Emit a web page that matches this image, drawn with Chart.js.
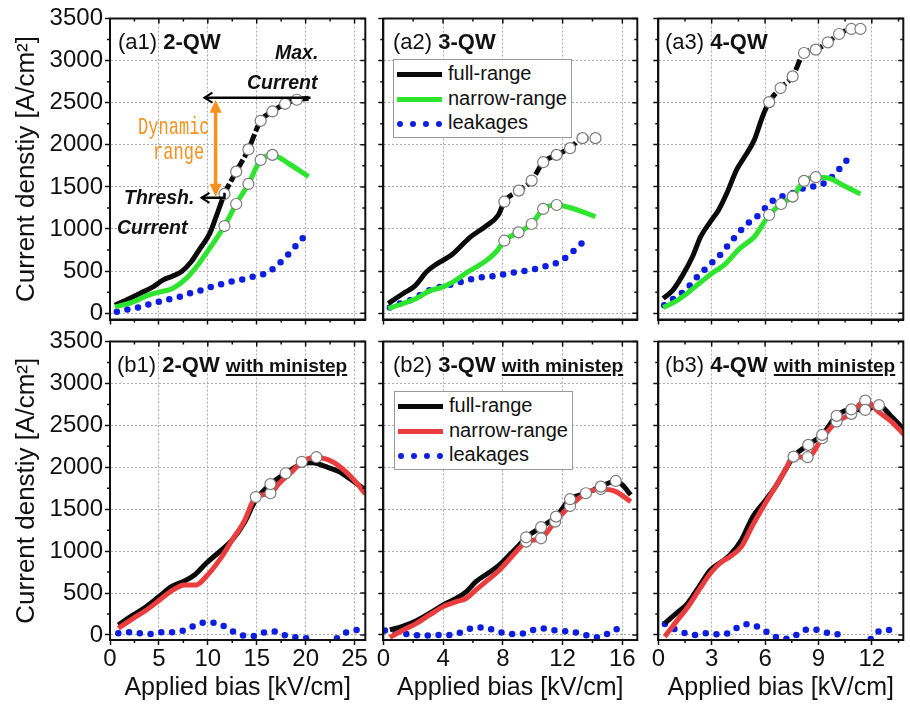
<!DOCTYPE html>
<html>
<head>
<meta charset="utf-8">
<script src="https://cdn.jsdelivr.net/npm/chart.js@4.4.0/dist/chart.umd.min.js"></script>
<style>
  html, body { margin: 0; padding: 0; background: #fff; }
  #wrap { position: relative; width: 910px; height: 705px; overflow: hidden; font-family: "Liberation Sans", Arial, sans-serif; color: #111; }
  #wrap canvas { position: absolute; }
  .lbl { position: absolute; font-size: 22px; line-height: 22px; white-space: nowrap; }
  .lbl u { font-size: 19px; font-weight: bold; text-decoration-thickness: 1.5px; text-underline-offset: 2px; }
  .note { position: absolute; font-weight: bold; font-style: italic; font-size: 19.5px; line-height: 20px; white-space: nowrap; }
  .dyn { position: absolute; color: #f7901e; font-family: "Liberation Mono", "DejaVu Sans Mono", monospace; font-size: 24px; line-height: 24px; transform: scaleX(0.71); transform-origin: 0 0; white-space: nowrap; }
  .legend { position: absolute; width: 177px; height: 76px; border: 1px solid #9a9a9a; background: #fff; font-size: 20px; padding-top: 1px; box-sizing: content-box; }
  .legend div { height: 24.5px; line-height: 24.5px; white-space: nowrap; }
  .legend .s { display: inline-block; width: 45px; margin: 0 6px 0 3px; vertical-align: middle; }
</style>
</head>
<body>
<div id="wrap">
  <canvas id="a1"></canvas><canvas id="a2"></canvas><canvas id="a3"></canvas>
  <canvas id="b1"></canvas><canvas id="b2"></canvas><canvas id="b3"></canvas>

  <div class="lbl" style="left:118px;top:31px">(a1) <b>2-QW</b></div>
  <div class="lbl" style="left:393px;top:31px">(a2) <b>3-QW</b></div>
  <div class="lbl" style="left:665px;top:31px">(a3) <b>4-QW</b></div>
  <div class="lbl" style="left:117px;top:354px">(b1) <b>2-QW</b> <u>with ministep</u></div>
  <div class="lbl" style="left:393px;top:354px">(b2) <b>3-QW</b> <u>with ministep</u></div>
  <div class="lbl" style="left:665px;top:354px">(b3) <b>4-QW</b> <u>with ministep</u></div>

  <div class="note" style="left:275px;top:42px">Max.</div>
  <div class="note" style="left:247px;top:72px">Current</div>
  <div class="note" style="left:124px;top:187px">Thresh.</div>
  <div class="note" style="left:117px;top:217px">Current</div>
  <div class="dyn" style="left:138px;top:116px">Dynamic</div>
  <div class="dyn" style="left:153px;top:141px">range</div>

  <div class="legend" style="left:393px;top:59px">
    <div><span class="s" style="border-top:5px solid #0a0a0a"></span>full-range</div>
    <div><span class="s" style="border-top:5px solid #2de52d"></span>narrow-range</div>
    <div><span class="s" style="border-top:6px dotted #0c1ee0"></span>leakages</div>
  </div>
  <div class="legend" style="left:394px;top:391px">
    <div><span class="s" style="border-top:5px solid #0a0a0a"></span>full-range</div>
    <div><span class="s" style="border-top:5px solid #eb3d3d"></span>narrow-range</div>
    <div><span class="s" style="border-top:6px dotted #0c1ee0"></span>leakages</div>
  </div>
</div>

<script>
// ---- data (x in kV/cm, y in A/cm2) ----
const a1FullX = [0.5, 2.0, 3.05, 4.4, 5.4, 6.4, 7.3, 8.3, 9.1, 10.2, 10.85, 11.7, 12.9, 14.15, 15.4, 16.6, 17.9, 19.1, 20.3];
const a1FullY = [95, 175, 234, 313, 393, 440, 492, 611, 750, 948, 1146, 1416, 1681, 1945, 2285, 2396, 2487, 2535, 2552];
const a1FullMkX = [11.7, 12.9, 14.15, 15.4, 16.6, 17.9, 19.1];
const a1FullMkY = [1416, 1681, 1945, 2285, 2396, 2487, 2535];
const a1NarrowX = [0.5, 2.4, 3.9, 5.1, 6.4, 7.8, 9.1, 10.3, 11.7, 12.9, 14.15, 15.4, 16.6, 18.3, 20.3];
const a1NarrowY = [75, 135, 214, 253, 294, 413, 591, 789, 1035, 1297, 1535, 1820, 1880, 1775, 1622];
const a1NarrowMkX = [11.7, 12.9, 14.15, 15.4, 16.6];
const a1NarrowMkY = [1035, 1297, 1535, 1820, 1880];
const a1LeakX = [0.7, 1.8, 2.9, 4.0, 5.0, 6.1, 7.1, 8.1, 9.1, 10.2, 11.25, 12.3, 13.3, 14.3, 15.35, 16.3, 16.9, 17.9, 18.6, 19.3, 20.0];
const a1LeakY = [16, 44, 68, 107, 135, 167, 194, 234, 265, 306, 341, 373, 393, 425, 452, 492, 551, 658, 750, 837, 928];

const a2FullX = [0.33, 1.33, 2.1, 2.9, 3.56, 4.56, 5.8, 6.9, 7.7, 8.1, 9.07, 9.93, 10.7, 11.6, 12.5, 13.33, 14.2];
const a2FullY = [115, 234, 321, 492, 583, 690, 900, 1039, 1166, 1324, 1456, 1575, 1793, 1880, 1960, 2079, 2079];
const a2FullMkX = [8.1, 9.07, 9.93, 10.7, 11.6, 12.5, 13.33, 14.2];
const a2FullMkY = [1324, 1456, 1575, 1793, 1880, 1960, 2079, 2079];
const a2NarrowX = [0.33, 1.33, 2.2, 3.1, 4.0, 4.67, 5.67, 6.78, 7.56, 8.1, 9.05, 9.93, 10.7, 11.6, 12.4, 13.3, 14.2];
const a2NarrowY = [56, 115, 175, 265, 313, 372, 492, 610, 730, 861, 960, 1059, 1238, 1285, 1258, 1205, 1146];
const a2NarrowMkX = [8.1, 9.05, 9.93, 10.7, 11.6];
const a2NarrowMkY = [861, 960, 1059, 1238, 1285];
const a2LeakX = [0.44, 1.1, 1.8, 2.44, 3.1, 3.8, 4.4, 5.1, 5.8, 6.56, 7.3, 8.0, 8.67, 9.4, 10.04, 10.7, 11.4, 12.05, 12.56, 13.07, 13.7];
const a2LeakY = [68, 115, 155, 214, 274, 313, 333, 365, 401, 425, 440, 460, 480, 500, 520, 551, 583, 639, 710, 797, 889];

const a3FullX = [0.27, 0.82, 1.37, 1.92, 2.38, 2.93, 3.39, 3.85, 4.4, 4.86, 5.4, 5.86, 6.23, 6.87, 7.55, 8.19, 8.85, 9.53, 10.16, 10.85, 11.36];
const a3FullY = [175, 274, 452, 670, 908, 1087, 1226, 1424, 1702, 1860, 2059, 2336, 2507, 2674, 2812, 3090, 3130, 3217, 3316, 3376, 3376];
const a3FullMkX = [6.23, 6.87, 7.55, 8.19, 8.85, 9.53, 10.16, 10.85, 11.36];
const a3FullMkY = [2507, 2674, 2812, 3090, 3130, 3217, 3316, 3376, 3376];
const a3NarrowX = [0.27, 0.92, 1.56, 2.29, 3.0, 3.76, 4.58, 5.4, 6.23, 6.9, 7.55, 8.19, 8.85, 9.6, 10.35, 11.36];
const a3NarrowY = [68, 135, 226, 353, 472, 583, 770, 908, 1166, 1297, 1384, 1571, 1615, 1603, 1523, 1416];
const a3NarrowMkX = [6.23, 6.9, 7.55, 8.19, 8.85];
const a3NarrowMkY = [1166, 1297, 1384, 1571, 1615];
const a3LeakX = [0.33, 0.79, 1.25, 1.7, 2.1, 2.53, 2.97, 3.43, 3.85, 4.25, 4.62, 5.04, 5.5, 5.96, 6.36, 6.92, 7.51, 8.06, 8.66, 9.25, 9.65, 10.08, 10.48, 10.86];
const a3LeakY = [95, 163, 226, 313, 413, 503, 591, 682, 789, 889, 979, 1067, 1139, 1238, 1324, 1384, 1424, 1476, 1503, 1535, 1595, 1690, 1789, 1880];

const b1FullX = [0.85, 2.37, 3.73, 5.08, 6.27, 7.45, 8.64, 9.83, 11.2, 12.5, 13.7, 14.9, 16.4, 17.96, 19.6, 20.7, 22.0, 23.4, 24.7, 26.1];
const b1FullY = [119, 239, 338, 465, 576, 636, 716, 855, 994, 1133, 1332, 1610, 1800, 1929, 2040, 2055, 2010, 1948, 1849, 1730];
const b1FullMkX = [16.4, 17.96];
const b1FullMkY = [1800, 1929];
const b1NarrowX = [0.85, 2.37, 3.73, 5.08, 6.44, 7.6, 8.8, 9.83, 11.2, 12.5, 13.7, 14.9, 16.4, 17.3, 18.6, 19.6, 21.1, 22.7, 24.1, 25.1, 26.1];
const b1NarrowY = [80, 199, 298, 418, 537, 597, 597, 696, 895, 1133, 1352, 1645, 1690, 1810, 1948, 2065, 2120, 2068, 1948, 1829, 1682];
const b1NarrowMkX = [14.9, 16.4, 19.6, 21.1];
const b1NarrowMkY = [1645, 1690, 2065, 2120];
const b1LeakX = [0.85, 2.03, 3.12, 4.23, 5.32, 6.44, 7.45, 8.4, 9.42, 10.6, 11.6, 12.6, 13.7, 14.8, 15.85, 16.9, 17.96, 19.07, 20.15, 21.7, 23.2, 24.2, 25.3];
const b1LeakY = [20, 32, 20, 12, 32, 32, 52, 99, 147, 147, 107, 40, -8, -12, 32, 40, -8, -28, -40, null, -40, 32, 60];

const b2FullX = [0.44, 1.33, 2.22, 3.1, 4.0, 4.9, 5.56, 6.2, 7.0, 7.78, 8.44, 9.1, 9.56, 10.56, 11.56, 12.5, 13.56, 14.56, 15.56, 16.0, 16.56];
const b2FullY = [60, 107, 171, 259, 358, 438, 517, 636, 736, 835, 954, 1074, 1165, 1285, 1411, 1619, 1690, 1769, 1837, 1790, 1670];
const b2FullMkX = [9.56, 10.56, 11.56, 12.5, 13.56, 14.56, 15.56];
const b2FullMkY = [1165, 1285, 1411, 1619, 1690, 1769, 1837];
const b2NarrowX = [0.44, 1.33, 2.22, 3.1, 4.0, 4.9, 5.56, 6.2, 7.0, 7.78, 8.44, 9.1, 9.56, 10.56, 11.5, 12.5, 13.56, 14.56, 15.56, 16.56];
const b2NarrowY = [-28, 60, 139, 239, 338, 398, 438, 537, 656, 775, 903, 1034, 1113, 1153, 1352, 1539, 1690, 1741, 1710, 1590];
const b2NarrowMkX = [9.56, 10.56, 11.5, 12.5, 14.56];
const b2NarrowMkY = [1113, 1153, 1352, 1539, 1741];
const b2LeakX = [0.11, 1.22, 2.0, 2.78, 3.56, 4.22, 4.89, 5.56, 6.27, 7.0, 7.67, 8.44, 9.16, 9.9, 10.6, 11.3, 12.05, 12.78, 13.5, 14.2, 14.85, 15.56, 16.27];
const b2LeakY = [52, 20, 0, -8, 0, 0, 12, 60, 91, 79, 40, 12, 12, 52, 79, 60, 48, 32, 0, -28, 0, 68, 68];

const b3FullX = [0.37, 1.01, 1.65, 2.29, 2.93, 3.57, 4.03, 4.67, 5.31, 5.96, 6.59, 7.14, 7.6, 8.43, 9.21, 10.02, 10.85, 11.63, 12.4, 13.1, 13.83];
const b3FullY = [139, 259, 378, 577, 775, 875, 954, 1133, 1411, 1590, 1769, 1968, 2127, 2267, 2386, 2613, 2690, 2684, 2740, 2604, 2446];
const b3FullMkX = [8.43, 9.21, 10.02, 10.85, 11.63, 12.4];
const b3FullMkY = [2267, 2386, 2613, 2690, 2684, 2740];
const b3NarrowX = [0.37, 1.01, 1.65, 2.29, 2.93, 3.57, 4.03, 4.67, 5.31, 5.96, 6.59, 7.14, 7.6, 8.39, 9.21, 10.02, 10.85, 11.63, 12.36, 13.1, 13.83];
const b3NarrowY = [-20, 159, 330, 537, 736, 875, 934, 1054, 1312, 1551, 1769, 1968, 2127, 2120, 2346, 2545, 2637, 2795, 2664, 2545, 2386];
const b3NarrowMkX = [7.6, 8.39, 9.21, 10.02, 10.85, 11.63];
const b3NarrowMkY = [2127, 2120, 2346, 2545, 2637, 2795];
const b3LeakX = [0.37, 0.82, 1.37, 2.02, 2.6, 3.21, 3.76, 4.27, 4.86, 5.41, 5.96, 6.47, 7.05, 7.6, 8.12, 8.7, 9.31, 9.89, 10.44, 11.2, 11.94, 12.36, 12.91, 13.5];
const b3LeakY = [131, 79, 32, 0, 20, 8, 12, 68, 127, 111, 52, -12, -48, -20, 52, 68, 32, 20, -20, null, -48, 40, 60, 32];

// annotation levels in (a1)
const maxCurrent = 2560;
const threshCurrent = 1370;

const BLACK = "#0a0a0a", GREEN = "#2de52d", RED = "#eb3d3d", BLUE = "#0c1ee0", ORANGE = "#f7901e";

Chart.defaults.font.family = '"Liberation Sans", Arial, sans-serif';
Chart.defaults.color = "#111";

function pts(xs, ys) {
  return xs.map((x, i) => ({ x: x, y: ys[i] }));
}

function lineSet(xs, ys, color, dashFrom) {
  const ds = {
    data: pts(xs, ys), borderColor: color, borderWidth: 5, pointRadius: 0,
    cubicInterpolationMode: "monotone"
  };
  if (dashFrom != null) {
    ds.segment = { borderDash: (c) => (c.p0.parsed.x >= dashFrom - 1e-9 ? [11, 3] : undefined) };
  }
  return ds;
}

function dotSet(xs, ys) {
  return {
    data: pts(xs, ys), borderColor: BLUE, borderWidth: 6.5, borderDash: [0, 10.8],
    borderCapStyle: "round", pointRadius: 0, cubicInterpolationMode: "monotone", spanGaps: false
  };
}

function markSet(xs, ys) {
  return {
    data: pts(xs, ys), showLine: false, pointRadius: 5.5, pointBackgroundColor: "#fff",
    pointBorderColor: "#7a7a7a", pointBorderWidth: 1.2, borderColor: "#7a7a7a"
  };
}

// box with mirrored inner ticks on top/right and minor ticks
const framePlugin = {
  id: "frame",
  afterDraw(chart, args, opts) {
    const { ctx, chartArea: a, scales: { x, y } } = chart;
    ctx.save();
    ctx.strokeStyle = "#111";
    ctx.lineWidth = 1.5;
    ctx.beginPath();
    for (let v = 0; v <= 3500; v += 250) {
      const p = y.getPixelForValue(v);
      const len = v % 500 === 0 ? 5 : 3;
      ctx.moveTo(a.right, p); ctx.lineTo(a.right - len, p);
      if (v % 500 !== 0) { ctx.moveTo(a.left, p); ctx.lineTo(a.left - 3, p); }
    }
    const half = opts.step / 2;
    for (let v = 0; v <= x.max + 1e-9; v += half) {
      const p = x.getPixelForValue(v);
      const major = Math.abs(v / opts.step - Math.round(v / opts.step)) < 1e-6;
      ctx.moveTo(p, a.top); ctx.lineTo(p, a.top + (major ? 5 : 3));
      if (!major) { ctx.moveTo(p, a.bottom); ctx.lineTo(p, a.bottom + 3); }
    }
    ctx.stroke();
    ctx.lineWidth = 2;
    ctx.strokeRect(a.left, a.top, a.right - a.left, a.bottom - a.top);
    ctx.restore();
  }
};

function chevron(ctx, x, y) {
  ctx.beginPath();
  ctx.moveTo(x + 8, y - 5); ctx.lineTo(x, y); ctx.lineTo(x + 8, y + 5);
  ctx.stroke();
}

function tri(ctx, x, y, dir) {
  ctx.beginPath();
  ctx.moveTo(x, y); ctx.lineTo(x - 6, y + dir * 13); ctx.lineTo(x + 6, y + dir * 13);
  ctx.closePath(); ctx.fill();
}

const rangePlugin = {
  id: "rangeArrows",
  afterDatasetsDraw(chart) {
    const { ctx, scales: { x, y } } = chart;
    const yMax = y.getPixelForValue(maxCurrent);
    const yThr = y.getPixelForValue(threshCurrent);
    ctx.save();
    ctx.strokeStyle = "#000";
    ctx.lineWidth = 2.5;
    const xA = x.getPixelForValue(9.65), xB = x.getPixelForValue(20.5);
    ctx.beginPath(); ctx.moveTo(xB, yMax); ctx.lineTo(xA, yMax); ctx.stroke();
    ctx.lineWidth = 2; chevron(ctx, xA, yMax);
    const xC = x.getPixelForValue(9.35), xD = x.getPixelForValue(11.7);
    ctx.lineWidth = 2.5;
    ctx.beginPath(); ctx.moveTo(xD, y.getPixelForValue(1430)); ctx.lineTo(xD, yThr); ctx.lineTo(xC, yThr); ctx.stroke();
    ctx.lineWidth = 2; chevron(ctx, xC, yThr);
    const xR = x.getPixelForValue(10.8);
    ctx.strokeStyle = ORANGE; ctx.fillStyle = ORANGE; ctx.lineWidth = 3.5;
    ctx.beginPath(); ctx.moveTo(xR, yMax + 12); ctx.lineTo(xR, yThr - 12); ctx.stroke();
    tri(ctx, xR, yMax + 2, 1);
    tri(ctx, xR, yThr - 1, -1);
    ctx.restore();
  }
};

const COLS = [
  { L: 110, R: 366.5, max: 26.1, step: 5 },
  { L: 383.3, R: 638.3, max: 17, step: 4 },
  { L: 658.3, R: 909, max: 13.77, step: 3 }
];
const ROWS = [
  { T: 18.5, B: 319.5, min: -75, top: 0, bottom: 345 },
  { T: 341.5, B: 640, min: -60, top: 318, bottom: 705 }
];

// ticks only on whole multiples of the step, starting at 0
function stepTicks(step) {
  return (s) => {
    const t = [];
    for (let v = 0; v <= s.max + 1e-9; v += step) t.push({ value: v });
    s.ticks = t;
  };
}

function panel(id, row, col, datasets, extra) {
  const c = COLS[col], r = ROWS[row];
  const cx0 = col === 0 ? 0 : Math.floor(c.L) - 14;
  const cx1 = col === 2 ? 910 : Math.ceil(c.R) + 5;
  const canvas = document.getElementById(id);
  canvas.width = cx1 - cx0;
  canvas.height = r.bottom - r.top;
  canvas.style.left = cx0 + "px";
  canvas.style.top = r.top + "px";
  const axisW = c.L - cx0, axisH = r.bottom - r.B;
  const showY = col === 0, showX = row === 1;
  const grid = { color: "#ababab", lineWidth: 1, tickColor: "#111", tickLength: 5, tickWidth: 1.5 };
  const border = { display: true, color: "#111", width: 2, dash: [2, 2] };
  new Chart(canvas, {
    type: "line",
    data: { datasets: datasets },
    options: {
      responsive: false,
      animation: false,
      layout: { padding: { left: 0, top: r.T - r.top, right: cx1 - c.R, bottom: 0 } },
      plugins: { legend: { display: false }, tooltip: { enabled: false }, frame: { step: c.step } },
      scales: {
        x: {
          type: "linear", min: 0, max: c.max,
          afterBuildTicks: stepTicks(c.step),
          afterFit: (s) => { s.height = axisH; },
          ticks: { display: showX, font: { size: 24 }, color: "#111", padding: 0, maxRotation: 0, autoSkip: false, callback: (v) => String(v) },
          grid: grid, border: border,
          title: { display: showX, text: "Applied bias [kV/cm]", font: { size: 25 }, color: "#111", padding: { top: 0, bottom: 2 } }
        },
        y: {
          type: "linear", min: r.min, max: 3500,
          afterBuildTicks: stepTicks(500),
          afterFit: (s) => { s.width = axisW; },
          ticks: { display: showY, font: { size: 24 }, color: "#111", padding: 2, autoSkip: false, callback: (v) => String(v) },
          grid: grid, border: border,
          title: { display: showY, text: "Current denstiy [A/cm²]", font: { size: 26 }, color: "#111", padding: { top: 11, bottom: 0 } }
        }
      }
    },
    plugins: [framePlugin].concat(extra || [])
  });
}

panel("a1", 0, 0, [
  markSet(a1FullMkX, a1FullMkY), markSet(a1NarrowMkX, a1NarrowMkY),
  lineSet(a1NarrowX, a1NarrowY, GREEN), lineSet(a1FullX, a1FullY, BLACK, 11.7),
  dotSet(a1LeakX, a1LeakY)
], [rangePlugin]);
panel("a2", 0, 1, [
  markSet(a2FullMkX, a2FullMkY), markSet(a2NarrowMkX, a2NarrowMkY),
  lineSet(a2NarrowX, a2NarrowY, GREEN), lineSet(a2FullX, a2FullY, BLACK, 8.1),
  dotSet(a2LeakX, a2LeakY)
]);
panel("a3", 0, 2, [
  markSet(a3FullMkX, a3FullMkY), markSet(a3NarrowMkX, a3NarrowMkY),
  lineSet(a3NarrowX, a3NarrowY, GREEN), lineSet(a3FullX, a3FullY, BLACK, 6.23),
  dotSet(a3LeakX, a3LeakY)
]);
panel("b1", 1, 0, [
  markSet(b1FullMkX, b1FullMkY), markSet(b1NarrowMkX, b1NarrowMkY),
  lineSet(b1NarrowX, b1NarrowY, RED), lineSet(b1FullX, b1FullY, BLACK),
  dotSet(b1LeakX, b1LeakY)
]);
panel("b2", 1, 1, [
  markSet(b2FullMkX, b2FullMkY), markSet(b2NarrowMkX, b2NarrowMkY),
  lineSet(b2NarrowX, b2NarrowY, RED), lineSet(b2FullX, b2FullY, BLACK),
  dotSet(b2LeakX, b2LeakY)
]);
panel("b3", 1, 2, [
  markSet(b3FullMkX, b3FullMkY), markSet(b3NarrowMkX, b3NarrowMkY),
  lineSet(b3NarrowX, b3NarrowY, RED), lineSet(b3FullX, b3FullY, BLACK),
  dotSet(b3LeakX, b3LeakY)
]);
</script>
</body>
</html>
